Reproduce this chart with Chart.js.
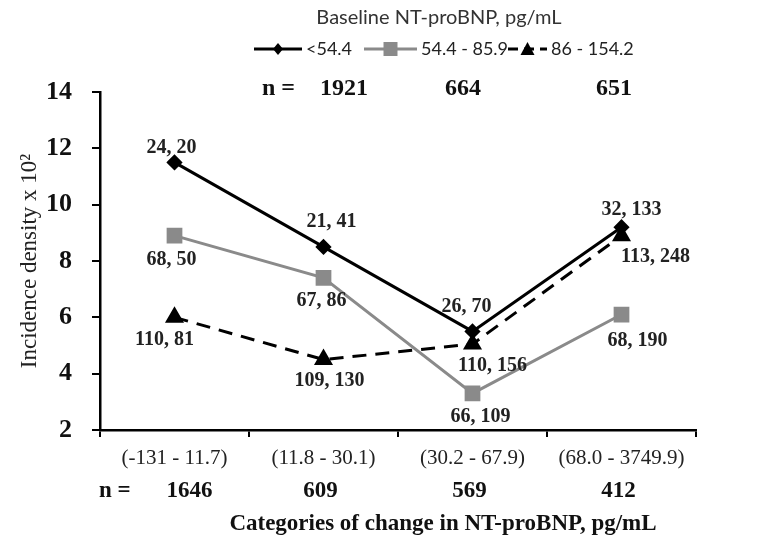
<!DOCTYPE html>
<html>
<head>
<meta charset="utf-8">
<script src="https://cdn.jsdelivr.net/npm/chart.js@4.4.1/dist/chart.umd.min.js"></script>
<style>
html,body{margin:0;padding:0;background:#fff;}
#wrap{width:772px;height:540px;}
</style>
</head>
<body>
<div id="wrap"><canvas id="c" width="772" height="540"></canvas></div>
<script>
// ---- data ----
const categories = ["(-131 - 11.7)", "(11.8 - 30.1)", "(30.2 - 67.9)", "(68.0 - 3749.9)"];
const categoryN = ["1646", "609", "569", "412"];
const seriesNames = ["<54.4", "54.4 - 85.9", "86 - 154.2"];
const baselineN = ["1921", "664", "651"];
const lowValues = [11.5, 8.5, 5.5, 9.2];
const midValues = [8.9, 7.4, 3.3, 6.1];
const highValues = [6.0, 4.5, 5.05, 8.9];
const lowPointLabels = ["24, 20", "21, 41", "26, 70", "32, 133"];
const midPointLabels = ["68, 50", "67, 86", "66, 109", "68, 190"];
const highPointLabels = ["110, 81", "109, 130", "110, 156", "113, 248"];
const yTicks = [2, 4, 6, 8, 10, 12, 14];
const xTitle = 'Categories of change in NT-proBNP, pg/mL';

const SERIF = '"Liberation Serif", "DejaVu Serif", serif';
const SANS = 'Lato, "Open Sans", sans-serif';
const GRAY = '#8a8a8a';

// label placement (offsets in px from point)
const labelOffsets = [
  [[-3,-15],[8,-25],[-6,-25],[10,-17]],
  [[-3,24],[-2,23],[8,23],[16,26]],
  [[-10,22],[6,21],[20,22],[34,21]]
];

const overlay = {
  id: 'overlay',
  afterDatasetsDraw(chart) {
    const ctx = chart.ctx;
    const xs = chart.scales.x;
    ctx.save();
    // point labels
    ctx.font = 'bold 20px ' + SERIF;
    ctx.fillStyle = '#222';
    ctx.textAlign = 'center';
    ctx.textBaseline = 'middle';
    const labelSets = [lowPointLabels, midPointLabels, highPointLabels];
    labelSets.forEach((labs, di) => {
      const meta = chart.getDatasetMeta(di);
      meta.data.forEach((pt, i) => {
        const o = labelOffsets[di][i];
        ctx.fillText(labs[i], pt.x + o[0], pt.y + o[1]);
      });
    });
    // top title
    ctx.font = '20px ' + SANS;
    ctx.fillStyle = '#333';
    ctx.fillText('Baseline NT-proBNP, pg/mL', 439, 18);
    // legend
    const legY = 49;
    const items = [
      {x0: 254, x1: 302, color: '#000', dash: [], style: 'diamond', text: seriesNames[0]},
      {x0: 364, x1: 417, color: GRAY, dash: [], style: 'square', text: seriesNames[1]},
      {x0: 508, x1: 547, color: '#000', dash: [10,6], style: 'triangle', text: seriesNames[2]}
    ];
    items.forEach(it => {
      ctx.beginPath();
      ctx.setLineDash(it.dash);
      ctx.strokeStyle = it.color;
      ctx.lineWidth = 3;
      ctx.moveTo(it.x0, legY); ctx.lineTo(it.x1, legY); ctx.stroke();
      ctx.setLineDash([]);
      const cx = (it.x0 + it.x1) / 2;
      ctx.fillStyle = it.color;
      ctx.beginPath();
      if (it.style === 'diamond') {
        ctx.moveTo(cx, legY-6); ctx.lineTo(cx+5, legY); ctx.lineTo(cx, legY+6); ctx.lineTo(cx-5, legY);
      } else if (it.style === 'square') {
        ctx.rect(cx-7, legY-7, 14, 14);
      } else {
        ctx.moveTo(cx, legY-7); ctx.lineTo(cx+7, legY+6); ctx.lineTo(cx-7, legY+6);
      }
      ctx.closePath(); ctx.fill();
      ctx.font = '18px ' + SANS;
      ctx.fillStyle = '#222';
      ctx.textAlign = 'left';
      ctx.fillText(it.text, it.x1 + 4, legY);
    });
    // top n row
    ctx.font = 'bold 24px ' + SERIF;
    ctx.fillStyle = '#111';
    ctx.textAlign = 'left';
    ctx.fillText('n =', 262, 89);
    ctx.textAlign = 'center';
    const topX = [344, 463, 614];
    baselineN.forEach((t, i) => ctx.fillText(t, topX[i], 89));
    // bottom n row
    ctx.font = 'bold 23px ' + SERIF;
    ctx.textAlign = 'left';
    ctx.fillText('n =', 99, 491);
    ctx.textAlign = 'center';
    categoryN.forEach((t, i) => ctx.fillText(t, xs.getPixelForValue(i) + (i === 0 ? 15 : -3), 491));
    // x axis title
    ctx.font = 'bold 23px ' + SERIF;
    ctx.fillText(xTitle, 443, 524);
    ctx.restore();
  }
};

new Chart(document.getElementById('c'), {
  type: 'line',
  data: {
    labels: categories,
    datasets: [
      {label: seriesNames[0], data: lowValues, borderColor: '#000', backgroundColor: '#000', borderWidth: 3,
       pointStyle: 'rectRot', pointRadius: 6, pointHoverRadius: 6},
      {label: seriesNames[1], data: midValues, borderColor: GRAY, backgroundColor: GRAY, borderWidth: 3,
       pointStyle: 'rect', pointRadius: 9, pointHoverRadius: 9},
      {label: seriesNames[2], data: highValues, borderColor: '#000', backgroundColor: '#000', borderWidth: 3,
       borderDash: [14, 9], pointStyle: 'triangle', pointRadius: 8, pointHoverRadius: 8}
    ]
  },
  options: {
    responsive: false,
    animation: false,
    layout: {padding: {top: 92, right: 76, bottom: 0, left: 0}},
    plugins: {legend: {display: false}, tooltip: {enabled: false}, title: {display: false}},
    scales: {
      x: {
        type: 'category',
        offset: true,
        grid: {offset: true, drawOnChartArea: false, drawTicks: true, tickLength: 7, color: '#000', lineWidth: 2},
        border: {color: '#000', width: 2.5},
        ticks: {font: {family: SERIF, size: 21}, color: '#222', padding: 9, maxRotation: 0, autoSkip: false},
        afterFit(s) { s.height = 110; }
      },
      y: {
        min: 2, max: 14,
        afterBuildTicks(s) { s.ticks = yTicks.map(v => ({value: v})); },
        grid: {drawOnChartArea: false, drawTicks: true, tickLength: 8, color: '#000', lineWidth: 2},
        border: {color: '#000', width: 2.5},
        ticks: {font: {family: SERIF, size: 26, weight: 'bold'}, color: '#111', padding: 20},
        title: {display: true, text: 'Incidence density x 10\u00B2', font: {family: SERIF, size: 23}, color: '#222', padding: {top: 16, bottom: 0}},
        afterFit(s) { s.width = 100; }
      }
    }
  },
  plugins: [overlay]
});
</script>
</body>
</html>
